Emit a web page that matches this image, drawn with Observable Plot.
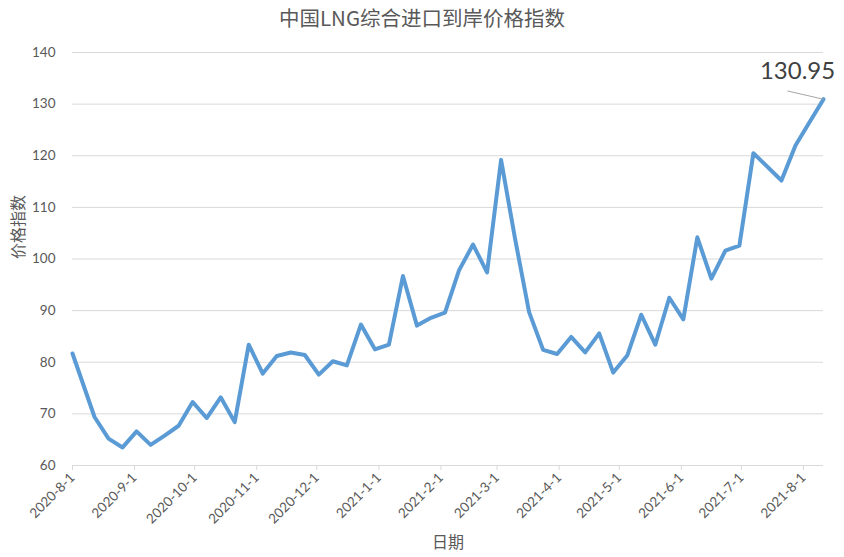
<!DOCTYPE html>
<html>
<head>
<meta charset="utf-8">
<script src="https://cdn.jsdelivr.net/npm/d3@7"></script>
<script src="https://cdn.jsdelivr.net/npm/@observablehq/plot@0.6"></script>
<style>
  html, body { margin: 0; padding: 0; background: #fff; }
  #title { width: 844px; height: 36px; line-height: 34px; text-align: center; font-family: "Noto Sans CJK SC", sans-serif; font-size: 20.5px; color: #595959; }
  #chart svg { display: block; }
</style>
</head>
<body>
<div id="title">中国LNG综合进口到岸价格指数</div>
<div id="chart"></div>
<script>
const dates = [
  "2020-08-01","2020-08-12","2020-08-19","2020-08-26","2020-09-02","2020-09-09","2020-09-16","2020-09-23","2020-09-30",
  "2020-10-07","2020-10-14","2020-10-21","2020-10-28","2020-11-04","2020-11-11","2020-11-18","2020-11-25",
  "2020-12-02","2020-12-09","2020-12-16","2020-12-23","2020-12-30","2021-01-06","2021-01-13","2021-01-20","2021-01-27",
  "2021-02-03","2021-02-10","2021-02-17","2021-02-24","2021-03-03","2021-03-10","2021-03-17","2021-03-24","2021-03-31",
  "2021-04-07","2021-04-14","2021-04-21","2021-04-28","2021-05-05","2021-05-12","2021-05-19","2021-05-26",
  "2021-06-02","2021-06-09","2021-06-16","2021-06-23","2021-06-30","2021-07-07","2021-07-21","2021-07-28",
  "2021-08-04","2021-08-11"
];
const values = [
  81.7,69.4,65.2,63.5,66.6,64.0,65.8,67.7,72.3,
  69.2,73.2,68.4,83.4,77.8,81.2,81.9,81.4,
  77.6,80.2,79.4,87.3,82.5,83.4,96.7,87.1,88.6,
  89.6,97.8,102.8,97.4,119.2,103.9,89.7,82.4,81.6,
  84.9,81.9,85.6,78.0,81.3,89.2,83.4,92.5,
  88.3,104.2,96.2,101.6,102.6,120.5,115.2,122.0,
  126.5,130.95
];
const yTicks = [60,70,80,90,100,110,120,130,140];
const xTickLabels = ["2020-8-1","2020-9-1","2020-10-1","2020-11-1","2020-12-1","2021-1-1","2021-2-1","2021-3-1","2021-4-1","2021-5-1","2021-6-1","2021-7-1","2021-8-1"];
const yLabel = "价格指数";
const xLabel = "日期";

const parse = d3.utcParse("%Y-%m-%d");
const data = dates.map((d, i) => ({date: parse(d), value: values[i]}));
const xTicks = xTickLabels.map(s => d3.utcParse("%Y-%m-%d")(s));
const fmt = d => `${d.getUTCFullYear()}-${d.getUTCMonth() + 1}-${d.getUTCDate()}`;
const last = data[data.length - 1];
const leader = [{x1: last.date, y1: last.value, x2: d3.utcDay.offset(last.date, -18), y2: last.value + 1.6}];

const font = "Lato, 'Noto Sans CJK SC', sans-serif";

const chart = Plot.plot({
  width: 844,
  height: 521,
  marginTop: 16,
  marginBottom: 92,
  marginLeft: 72,
  marginRight: 21,
  style: {fontFamily: font, color: "#595959", background: "#fff"},
  x: {type: "utc", domain: [data[0].date, last.date]},
  y: {domain: [60, 140]},
  marks: [
    Plot.gridY(yTicks, {stroke: "#d9d9d9", strokeOpacity: 1}),
    Plot.ruleY([60], {stroke: "#d9d9d9"}),
    Plot.axisY({ticks: yTicks, tickSize: 0, tickPadding: 17, fontSize: 13.5, label: null}),
    Plot.axisX({ticks: xTicks, tickFormat: fmt, tickSize: 5, stroke: "#d9d9d9", tickRotate: -45, tickPadding: 5, fontSize: 13.5, label: null}),
    Plot.text([yLabel], {frameAnchor: "left", rotate: -90, dx: -54, fontSize: 16, fill: "#595959", fontFamily: "'Noto Sans CJK SC', sans-serif"}),
    Plot.text([xLabel], {frameAnchor: "bottom", dy: 82, fontSize: 16, fill: "#595959", fontFamily: "'Noto Sans CJK SC', sans-serif"}),
    Plot.line(data, {x: "date", y: "value", stroke: "#5b9bd5", strokeWidth: 4, strokeLinejoin: "round", strokeLinecap: "round"}),
    Plot.link(leader, {x1: "x1", y1: "y1", x2: "x2", y2: "y2", stroke: "#a6a6a6", strokeWidth: 1}),
    Plot.text([last], {x: "date", y: "value", text: d => d.value.toFixed(2), dx: -26, dy: -28, fontSize: 24, fill: "#404040"})
  ]
});
document.getElementById("chart").appendChild(chart);
</script>
</body>
</html>
